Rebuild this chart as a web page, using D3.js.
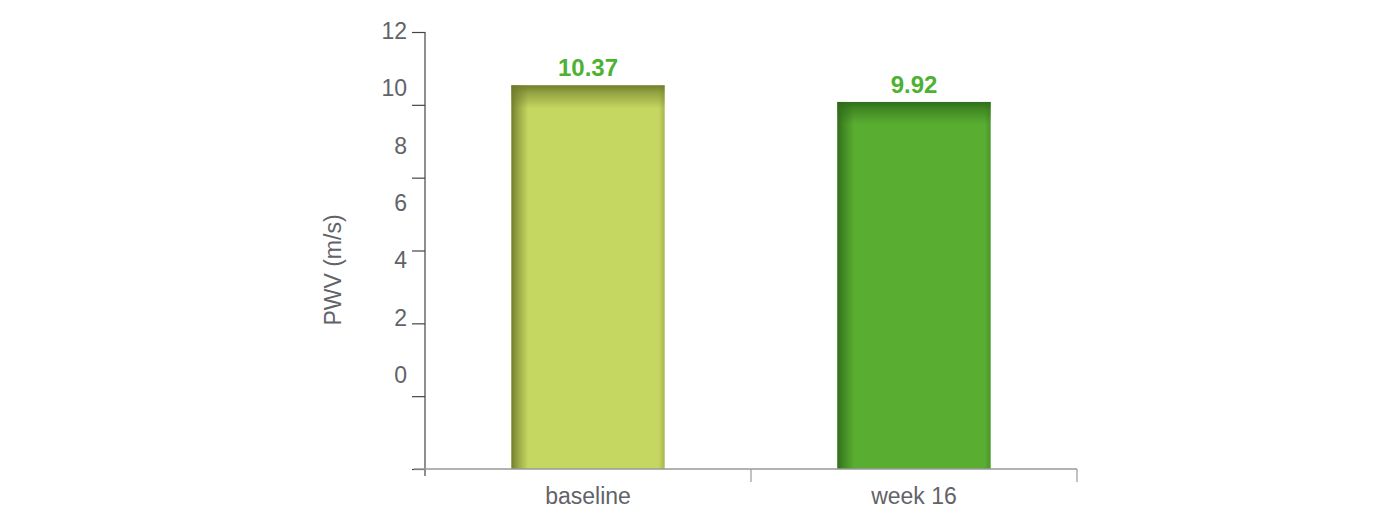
<!DOCTYPE html>
<html>
<head>
<meta charset="utf-8">
<script src="https://cdn.jsdelivr.net/npm/d3@7"></script>
<style>
  body { margin: 0; background: #fff; }
  svg { display: block; }
  text { font-family: "Liberation Sans", Arial, sans-serif; }
</style>
</head>
<body>
<svg width="1383" height="525"></svg>
<script>
var categories = ["baseline", "week 16"];
var values = [10.37, 9.92];
var barColors = ["#c5d760", "#59ae31"];
var edgeColors = ["#6e7a2a", "#2f6a1a"];
var tickValues = [0, 2, 4, 6, 8, 10, 12];
var tickLabels = ["0", "2", "4", "6", "8", "10", "12"];

var svg = d3.select("svg");
var defs = svg.append("defs");

// x: one band per category, axis from y axis to right end
var xScale = d3.scaleBand()
	.domain(categories)
	.range([425, 1077])
	.padding(0);
var barWidth = xScale.bandwidth() * 0.47;

// bars scale
var yScale = d3.scaleLinear()
	.domain([0, 12])
	.range([469, 25]);

// tick marks and labels sit at their own (offset) positions in the original
var tickScale = d3.scaleLinear()
	.domain([0, 12])
	.range([469, 32]);
var labelScale = d3.scaleLinear()
	.domain([0, 12])
	.range([375, 31]);

// gradients for the inset shading of the bars
categories.forEach(function(c, i){
	var h = defs.append("linearGradient")
		.attr("id", "h" + i)
		.attr("x1", 0).attr("x2", 1).attr("y1", 0).attr("y2", 0);
	h.append("stop").attr("offset", "0").attr("stop-color", edgeColors[i]).attr("stop-opacity", 0.95);
	h.append("stop").attr("offset", "0.04").attr("stop-color", edgeColors[i]).attr("stop-opacity", 0.55);
	h.append("stop").attr("offset", "0.11").attr("stop-color", edgeColors[i]).attr("stop-opacity", 0);
	h.append("stop").attr("offset", "0.96").attr("stop-color", edgeColors[i]).attr("stop-opacity", 0);
	h.append("stop").attr("offset", "1").attr("stop-color", edgeColors[i]).attr("stop-opacity", 0.35);

	var v = defs.append("linearGradient")
		.attr("id", "v" + i)
		.attr("x1", 0).attr("x2", 0).attr("y1", 0).attr("y2", 1);
	v.append("stop").attr("offset", "0").attr("stop-color", edgeColors[i]).attr("stop-opacity", 0.95);
	v.append("stop").attr("offset", "0.02").attr("stop-color", edgeColors[i]).attr("stop-opacity", 0.55);
	v.append("stop").attr("offset", "0.06").attr("stop-color", edgeColors[i]).attr("stop-opacity", 0);
	v.append("stop").attr("offset", "1").attr("stop-color", edgeColors[i]).attr("stop-opacity", 0);
});

var bars = svg.append("g").selectAll("g")
	.data(categories)
	.enter()
	.append("g");

["fill", "h", "v"].forEach(function(layer){
	bars.append("rect")
		.attr("x", function(d){ return xScale(d) + (xScale.bandwidth() - barWidth) / 2; })
		.attr("y", function(d, i){ return yScale(values[i]); })
		.attr("width", barWidth)
		.attr("height", function(d, i){ return yScale(0) - yScale(values[i]); })
		.attr("fill", function(d, i){ return layer == "fill" ? barColors[i] : "url(#" + layer + i + ")"; });
});

// value labels
bars.append("text")
	.attr("x", function(d){ return xScale(d) + xScale.bandwidth() / 2; })
	.attr("y", function(d, i){ return yScale(values[i]) - 9; })
	.attr("text-anchor", "middle")
	.attr("font-size", 24)
	.attr("font-weight", "bold")
	.attr("fill", "#4db132")
	.text(function(d, i){ return values[i].toFixed(2); });

// y axis: line + ticks, labels placed separately
var yAxis = d3.axisLeft(tickScale)
	.tickValues(tickValues)
	.tickSize(13)
	.tickSizeOuter(0)
	.tickFormat("");

var gy = svg.append("g")
	.attr("transform", "translate(425, 0)")
	.call(yAxis);
gy.select(".domain").remove();
gy.selectAll(".tick line").attr("stroke", "#444").attr("stroke-width", 1.2);
gy.append("line")
	.attr("x1", 0).attr("x2", 0)
	.attr("y1", tickScale(12)).attr("y2", 476)
	.attr("stroke", "#444").attr("stroke-width", 1.2);

svg.append("g").selectAll("text")
	.data(tickValues)
	.enter()
	.append("text")
	.attr("x", 407)
	.attr("y", function(d){ return labelScale(d); })
	.attr("dy", "0.35em")
	.attr("text-anchor", "end")
	.attr("font-size", 23)
	.attr("fill", "#626368")
	.text(function(d, i){ return tickLabels[i]; });

// x axis baseline and boundary ticks
var gx = svg.append("g");
gx.append("line")
	.attr("x1", 414).attr("x2", xScale.range()[1])
	.attr("y1", yScale(0)).attr("y2", yScale(0))
	.attr("stroke", "#999").attr("stroke-width", 1.5);
gx.selectAll(".xt")
	.data(categories.slice(1).map(function(d){ return xScale(d); }).concat([xScale.range()[1]]))
	.enter()
	.append("line")
	.attr("class", "xt")
	.attr("x1", function(d){ return d; }).attr("x2", function(d){ return d; })
	.attr("y1", yScale(0)).attr("y2", yScale(0) + 13)
	.attr("stroke", "#999").attr("stroke-width", 1.2);

gx.selectAll(".xl")
	.data(categories)
	.enter()
	.append("text")
	.attr("class", "xl")
	.attr("x", function(d){ return xScale(d) + xScale.bandwidth() / 2; })
	.attr("y", 504)
	.attr("text-anchor", "middle")
	.attr("font-size", 23)
	.attr("fill", "#626368")
	.text(function(d){ return d; });

// y axis title
svg.append("text")
	.attr("transform", "translate(341, 270) rotate(-90)")
	.attr("text-anchor", "middle")
	.attr("font-size", 23)
	.attr("fill", "#626368")
	.text("PWV (m/s)");
</script>
</body>
</html>
